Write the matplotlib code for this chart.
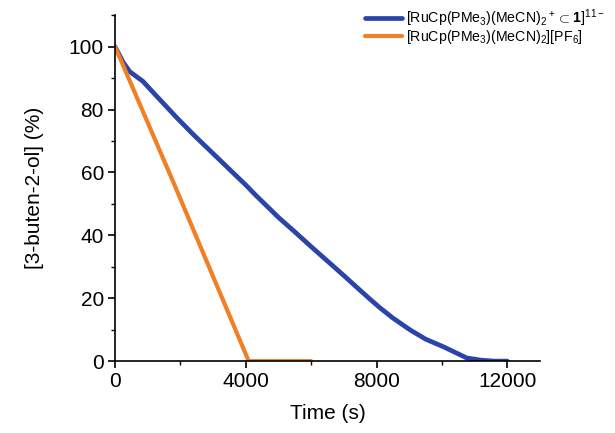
import matplotlib
matplotlib.use("Agg")
import matplotlib.pyplot as plt
from matplotlib.ticker import MultipleLocator

plt.rcParams['font.family'] = ['Liberation Sans', 'DejaVu Sans']
plt.rcParams['mathtext.fontset'] = 'custom'
plt.rcParams['mathtext.rm'] = 'Liberation Sans'
plt.rcParams['mathtext.bf'] = 'Liberation Sans:bold'

# Blue series: [RuCp(PMe3)(MeCN)2+ ⊂ 1]11-
t_blue = [0, 250, 455, 850, 1250, 1880, 2400, 2880, 3500, 4000, 4300, 5000,
          5500, 6000, 6500, 7000, 7500, 7800, 8100, 8500, 9030, 9500, 10060, 10500,
          10760, 11200, 11600, 12000]
v_blue = [100, 95, 92, 89, 84.5, 77.5, 72, 67.2, 61, 56, 52.8, 45.7,
          41.1, 36.4, 31.8, 27.2, 22.5, 19.7, 17, 13.7, 9.9, 7, 4.5, 2.3,
          1, 0.3, 0, 0]

# Orange series: [RuCp(PMe3)(MeCN)2][PF6]
t_orange = [0, 1760, 4090, 6000]
v_orange = [100, 57.5, 0, 0]

label_blue = r'[RuCp(PMe$_3$)(MeCN)$_2$$^+$$\subset$$\mathbf{1}$]$^{11-}$'
label_orange = r'[RuCp(PMe$_3$)(MeCN)$_2$][PF$_6$]'

fig = plt.figure(figsize=(6.15, 4.33), dpi=100)
ax = fig.add_axes([0.187, 0.166, 0.691, 0.799])

ax.plot(t_blue, v_blue, color='#2b44a8', lw=3.4, label=label_blue, solid_capstyle='round')
ax.plot(t_orange, v_orange, color='#f07f26', lw=3.0, label=label_orange, solid_capstyle='round')

ax.set_xlim(0, 13000)
ax.set_ylim(0, 110)
ax.xaxis.set_major_locator(MultipleLocator(4000))
ax.xaxis.set_minor_locator(MultipleLocator(2000))
ax.yaxis.set_major_locator(MultipleLocator(20))
ax.yaxis.set_minor_locator(MultipleLocator(10))

for s in ['top', 'right']:
    ax.spines[s].set_visible(False)
for s in ['left', 'bottom']:
    ax.spines[s].set_linewidth(1.2)

ax.tick_params(which='major', direction='out', length=5, width=1.2, labelsize=15, pad=3)
ax.tick_params(which='minor', direction='out', length=3, width=1.0)

ax.set_xlabel('Time (s)', fontsize=15, labelpad=9)
ax.set_ylabel('[3-buten-2-ol] (%)', fontsize=15, labelpad=18)

fig.legend(loc='upper left', bbox_to_anchor=(0.585, 0.995), frameon=False,
           fontsize=10.2, handlelength=2.6, handletextpad=0.25, labelspacing=-0.12,
           borderaxespad=0)

fig.savefig('out.png', dpi=100)
